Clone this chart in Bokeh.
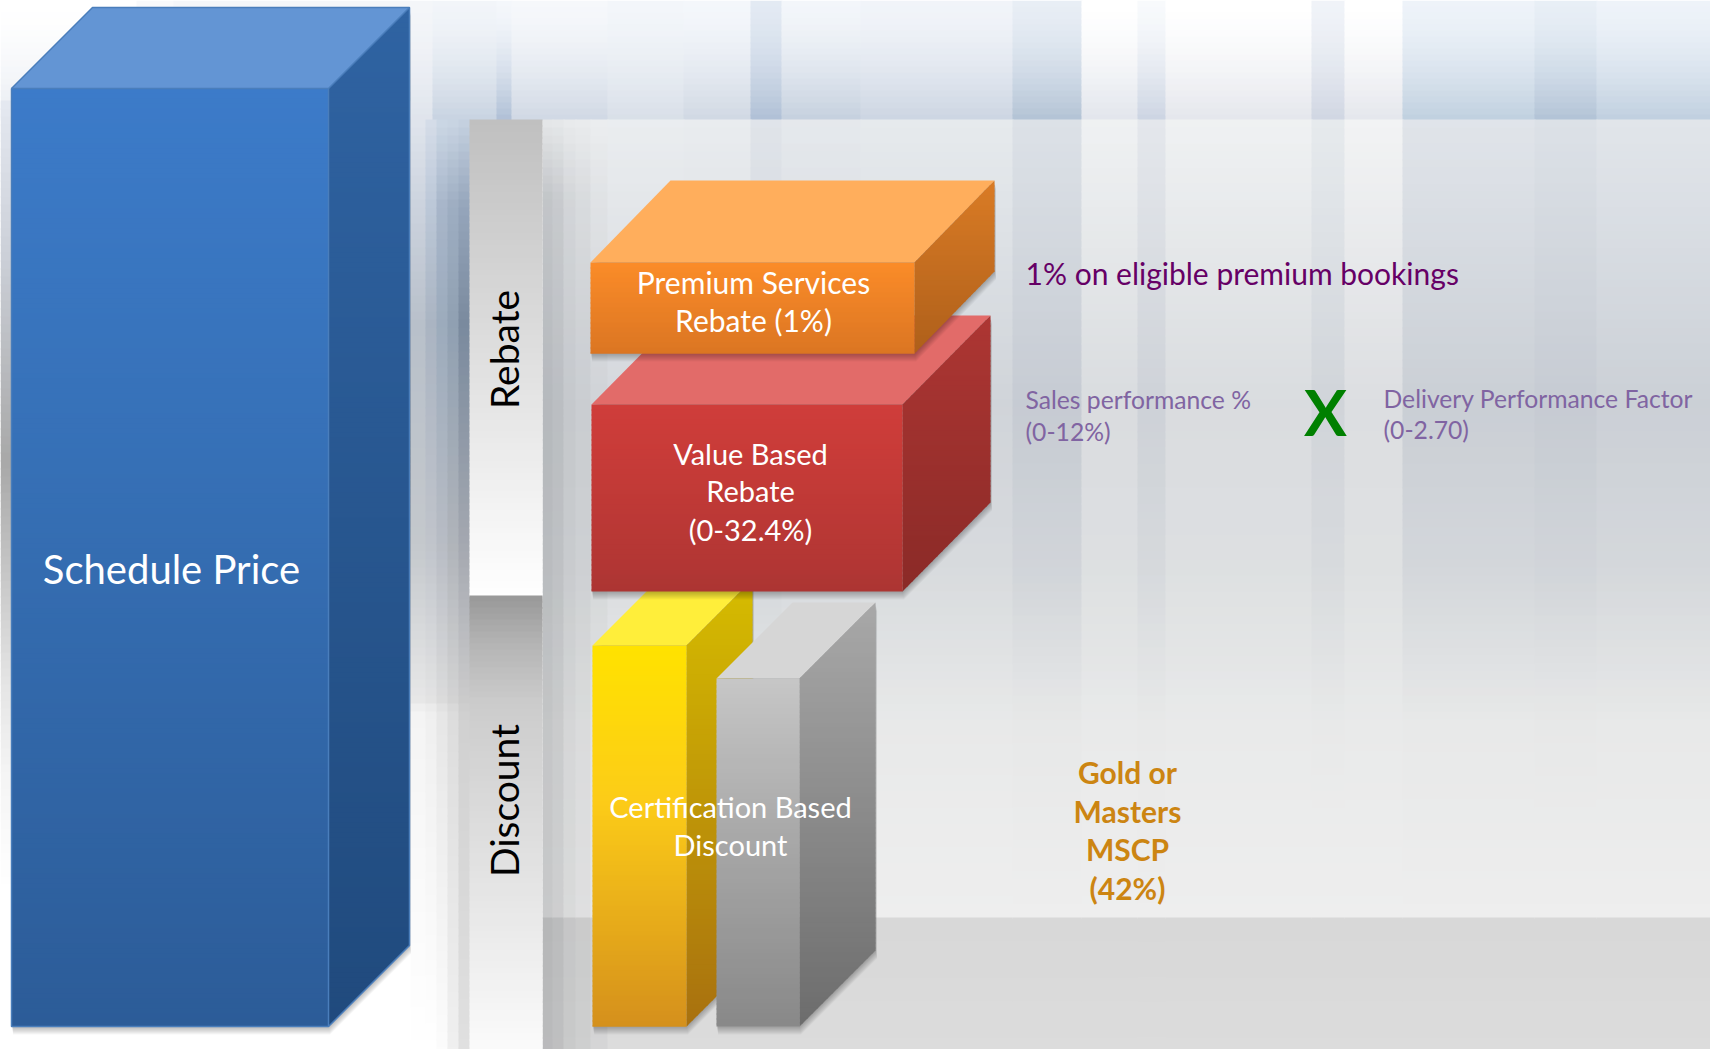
from bisect import bisect_left
import math

from bokeh.embed import file_html
from bokeh.models import Range1d, ColumnDataSource
from bokeh.plotting import figure
from bokeh.resources import INLINE
from bokeh.core.properties import value

W, H = 1710, 1049

# Vertical wall stripes: right edge of each stripe, its tint at the top of the
# upper band, at the foot of the upper band, and its tone on the lower wall.
stripe_edges = [136, 173, 410, 432, 496, 511, 607, 683, 750, 781, 860, 1012, 1081, 1137,
                1165, 1311, 1344, 1402, 1534, 1596, 1710]
stripe_top = ["#ffffff", "#f8f9fb", "#f4f6f9", "#f4f6f9", "#f2f5f9", "#f4f7fb", "#f6f8fb", "#f3f6fa",
              "#f4f7fb", "#e3eaf3", "#f3f6fa", "#f1f4f9", "#e8eef5", "#ffffff", "#f8fafc",
              "#ffffff", "#f0f3f8", "#ffffff", "#eef3f9", "#e8eff6", "#eef3f9"]
stripe_foot = ["#e8ecf2", "#dde2e8", "#c8d0da", "#dfe4ec", "#c8d3e1", "#b0c0d6", "#d0d8e4", "#d8dfe8",
               "#d0d8e3", "#b0c0d6", "#c5d0de", "#ccd5e2", "#b3c3d5", "#e2e5ec", "#ccd4e2",
               "#e4e6ec", "#d0d6e2", "#e4e6ec", "#c0d0df", "#b2c3d6", "#c0cfdf"]
stripe_tone = [0.5, 0.4, 0.3, 0.3, 0.3, 0.55, 0.2, 0.3, 0.35, 0.7, 0.5, 0.45, 0.85, 0.1, 0.55,
               0.1, 0.45, 0.0, 0.7, 0.85, 0.65]

# Wall colours down the page, for the lightest and darkest stripe.
wall_y = [119, 400, 560, 720, 917]
wall_light = ["#f2f3f4", "#dcdee1", "#dfe1e2", "#e9eaea", "#eeeeee"]
wall_dark = ["#d8dee5", "#c2c8d0", "#ced2d7", "#e7e8e8", "#eeeeee"]
floor_colors = ["#d8d8d8", "#dcdcdc"]

# Wall along the far left edge, behind the tall box.
edge_y = [100, 250, 457, 560, 675, 766, 887]
edge_colors = ["#e4e8f0", "#ccd0d8", "#a8a8a8", "#c4c4c4", "#e4e4e4", "#f4f4f4", "#ffffff"]

# Wall columns between the tall box and the strip, sampled down the page.
left_x = [410, 425, 436, 447, 458, 469]
left_y = [119, 200, 320, 540, 700, 705, 1049]
left_columns = [
    ["#dfe4ec", "#ccd3de", "#b8c0ca", "#c4c8cc", "#e8e8e8", "#f4f4f4", "#ffffff"],
    ["#d4dce8", "#bcc8d8", "#aab4c2", "#c0c4cb", "#e4e4e4", "#efefef", "#ffffff"],
    ["#cad6e4", "#a8b6ca", "#9cabbc", "#b8bcc4", "#dcdcdc", "#e6e6e6", "#fcfcfc"],
    ["#c8d4e2", "#9eaec2", "#90a0b2", "#b0b4ba", "#d4d4d4", "#dcdcdc", "#f0f0f0"],
    ["#c4d0df", "#96a6bc", "#7a8a9e", "#a4a8b0", "#cccccc", "#d0d0d0", "#e0e0e0"],
]

# Shadow falling to the right of the strip.
shadow_right = [542, 552, 563, 575, 590, 607]
shadow_right_alpha = [0.20, 0.17, 0.11, 0.08, 0.04]

# Boxes, back to front: front face left/right/top/bottom, depth offset.
box_names = ["Schedule", "Certification gold", "Certification grey", "Value", "Premium"]
box_left = [11, 592, 716, 591, 590]
box_right = [328, 686, 799, 902, 914]
box_top = [88, 645, 678, 404, 262]
box_bottom = [1026, 1026, 1026, 591, 353]
box_dx = [81, 66, 76, 88, 80]
box_dy = [81, 66, 76, 89, 82]
box_roof = ["#6395d4", "#ffee3a", "#d6d6d6", "#e26b69", "#ffae5c"]
box_front_top = ["#3c7bc9", "#ffe200", "#c6c6c6", "#cf3d3a", "#fa8b28"]
box_front_mid = ["#3670b6", "#fccc18", "#ababab", "#c33a37", "#ed8226"]
box_front_foot = ["#2c5c98", "#d48f1c", "#888888", "#ac3533", "#da7522"]
box_side_top = ["#2f63a2", "#d6bc00", "#a8a8a8", "#ad3633", "#d97b25"]
box_side_foot = ["#204a7d", "#a8700f", "#6c6c6c", "#8a2a27", "#ae5f1a"]
box_edge = ["#4a7ebb", None, None, None, None]

# Strip behind the section labels.
strip_x = [469, 542]
strip_rebate_y = [119, 595]
strip_rebate_colors = ["#c0c0c0", "#ffffff"]
strip_discount_y = [595, 640, 700, 1049]
strip_discount_colors = ["#9a9a9a", "#b4b4b4", "#cccccc", "#fbfbfb"]

# Texts.
white_labels = ["Schedule Price", "Premium Services", "Rebate (1%)", "Value Based", "Rebate",
                "(0-32.4%)", "Certification Based", "Discount"]
white_x = [171, 753, 753, 750, 750, 750, 730, 730]
white_y = [568, 281, 319, 453, 490, 529, 806, 844]
white_size = [40, 30, 30, 29, 29, 29, 29, 29]

side_labels = ["Rebate", "Discount"]
side_x = [503, 503]
side_y = [349, 800]

purple_labels = ["1% on eligible premium bookings"]
purple_x = [1025]
purple_y = [272]

note_labels = ["Sales performance %", "(0-12%)", "Delivery Performance Factor", "(0-2.70)"]
note_x = [1025, 1025, 1383, 1383]
note_y = [399, 431, 398, 429]

mark_label = ["X"]
mark_x = [1325]
mark_y = [411]

gold_labels = ["Gold or", "Masters", "MSCP", "(42%)"]
gold_x = [1127, 1127, 1127, 1127]
gold_y = [771, 810, 848, 887]

TEXT_FONT = "Lato"


def rgb(c):
    return tuple(int(c[i:i + 2], 16) for i in (1, 3, 5))


def mix(a, b, t):
    a, b = rgb(a), rgb(b)
    return "#%02x%02x%02x" % tuple(round(a[i] + (b[i] - a[i]) * t) for i in range(3))


def ramp(y, ys, cs):
    if y <= ys[0]:
        return cs[0]
    for i in range(len(ys) - 1):
        if y <= ys[i + 1]:
            return mix(cs[i], cs[i + 1], (y - ys[i]) / (ys[i + 1] - ys[i]))
    return cs[-1]


p = figure(width=W, height=H, x_range=Range1d(0, W), y_range=Range1d(H, 0),
           output_backend="svg", toolbar_location=None, min_border=0,
           x_axis_location=None, y_axis_location=None, outline_line_color=None)
p.grid.visible = False
p.background_fill_color = "#ffffff"
p.border_fill_color = "#ffffff"

ql, qr, qt, qb, qc = [], [], [], [], []


def band(x0, x1, y0, y1, c, overlap=1):
    # Bands overlap the next one slightly so no hairline shows between them.
    ql.append(x0)
    qr.append(x1 + overlap)
    qt.append(y0)
    qb.append(y1 + overlap)
    qc.append(c)


def flush_bands():
    p.quad(left="l", right="r", top="t", bottom="b", fill_color="c", line_color=None,
           source=ColumnDataSource(dict(l=list(ql), r=list(qr), t=list(qt), b=list(qb), c=list(qc))))
    for lst in (ql, qr, qt, qb, qc):
        lst.clear()


# Upper band of the wall.
x0 = 0
for i, x1 in enumerate(stripe_edges):
    for y in range(0, 119, 6):
        band(x0, x1, y, min(y + 6, 119),
             mix(stripe_top[i], stripe_foot[i], ((y + 3) / 119) ** 1.6))
    x0 = x1

# Lower wall and floor right of the strip, darkened by the strip's shadow.
edges = sorted(set(shadow_right) | {e for e in stripe_edges if e > 542})
for x0, x1 in zip(edges[:-1], edges[1:]):
    tone = stripe_tone[bisect_left(stripe_edges, x1)]
    j = bisect_left(shadow_right, x1) - 1
    alpha = shadow_right_alpha[j] if 0 <= j < len(shadow_right_alpha) and x1 <= shadow_right[-1] else 0
    for y in range(119, 917, 8):
        c = mix(ramp(y, wall_y, wall_light), ramp(y, wall_y, wall_dark), tone)
        band(x0, x1, y, min(y + 8, 917), mix(c, "#30343a", alpha * min(1, 0.25 + (y - 119) / 100)))
    for y in range(917, H, 12):
        band(x0, x1, y, min(y + 12, H), mix(ramp(y, [917, H], floor_colors), "#30343a", alpha))

# Far left edge, and the white ground below it.
for y in range(100, H, 8):
    band(0, 410, y, min(y + 8, H), ramp(y, edge_y, edge_colors))

# Wall columns between the tall box and the strip.
for i in range(len(left_columns)):
    for y in range(119, H, 8):
        band(left_x[i], left_x[i + 1], y, min(y + 8, H), ramp(y, left_y, left_columns[i]))
flush_bands()

# The strip itself.
for y in range(strip_rebate_y[0], strip_rebate_y[1], 6):
    band(strip_x[0], strip_x[1] - 1, y, min(y + 6, strip_rebate_y[1]),
         ramp(y, strip_rebate_y, strip_rebate_colors))
for y in range(strip_discount_y[0], H, 6):
    band(strip_x[0], strip_x[1] - 1, y, min(y + 6, H), ramp(y, strip_discount_y, strip_discount_colors))
flush_bands()


def clip_band(poly, y0, y1):
    def clip(pts, keep, cross):
        out = []
        for i in range(len(pts)):
            a, b = pts[i], pts[(i + 1) % len(pts)]
            if keep(a):
                out.append(a)
            if keep(a) != keep(b):
                t = (cross - a[1]) / (b[1] - a[1])
                out.append((a[0] + (b[0] - a[0]) * t, cross))
        return out
    pts = clip(poly, lambda q: q[1] >= y0, y0)
    return clip(pts, lambda q: q[1] <= y1, y1) if pts else []


def shaded(poly, stops_y, stops_c, step=5):
    xs, ys, cs = [], [], []
    y = min(q[1] for q in poly)
    end = max(q[1] for q in poly)
    while y < end:
        piece = clip_band(poly, y, min(y + step + 1, end))
        if piece:
            xs.append([q[0] for q in piece])
            ys.append([q[1] for q in piece])
            cs.append(ramp(y, stops_y, stops_c))
        y += step
    p.patches(xs="x", ys="y", fill_color="c", line_color=None,
              source=ColumnDataSource(dict(x=xs, y=ys, c=cs)))


# Three-sided boxes with drop shadows.
for i in range(len(box_names)):
    l, r, t, b, dx, dy = (box_left[i], box_right[i], box_top[i], box_bottom[i],
                          box_dx[i], box_dy[i])
    outline = [(l, t), (l + dx, t - dy), (r + dx, t - dy), (r + dx, b - dy), (r, b), (l, b)]
    for k in range(1, 9):
        p.patch([q[0] + k * 0.2 for q in outline], [q[1] + k for q in outline],
                fill_color="#000000", fill_alpha=0.035, line_color=None)
    p.patch([l, l + dx, r + dx, r], [t, t - dy, t - dy, t], fill_color=box_roof[i],
            line_color=None)
    side = [(r, t), (r + dx, t - dy), (r + dx, b - dy), (r, b)]
    shaded(side, [t - dy, b], [box_side_top[i], box_side_foot[i]])
    shaded([(l, t), (r, t), (r, b), (l, b)], [t, t + (b - t) * 0.4, b],
           [box_front_top[i], box_front_mid[i], box_front_foot[i]])
    if box_edge[i]:
        p.multi_line(
            [[q[0] for q in outline] + [l], [l, r, r + dx], [r, r]],
            [[q[1] for q in outline] + [t], [t, t, t - dy], [t, b]],
            line_color=box_edge[i], line_width=1.5)


def texts(labels, x, y, size, color, weight="normal", align="center", angle=0.0):
    p.text(x=x, y=y, text=labels, text_font=value(TEXT_FONT), text_font_size=f"{size}px",
           text_color=color, text_font_style=weight, text_align=align,
           text_baseline="middle", angle=angle)


for lab, x, y, s in zip(white_labels, white_x, white_y, white_size):
    texts([lab], [x], [y], s, "#ffffff")
texts(side_labels, side_x, side_y, 39, "#000000", angle=math.pi / 2)
texts(purple_labels, purple_x, purple_y, 30, "#660066", align="left")
texts(note_labels, note_x, note_y, 24.7, "#8064a2", align="left")
texts(mark_label, mark_x, mark_y, 64, "#008000", weight="bold")
texts(gold_labels, gold_x, gold_y, 30, "#cc8512", weight="bold")

open("out.html", "w").write(file_html(p, INLINE))
